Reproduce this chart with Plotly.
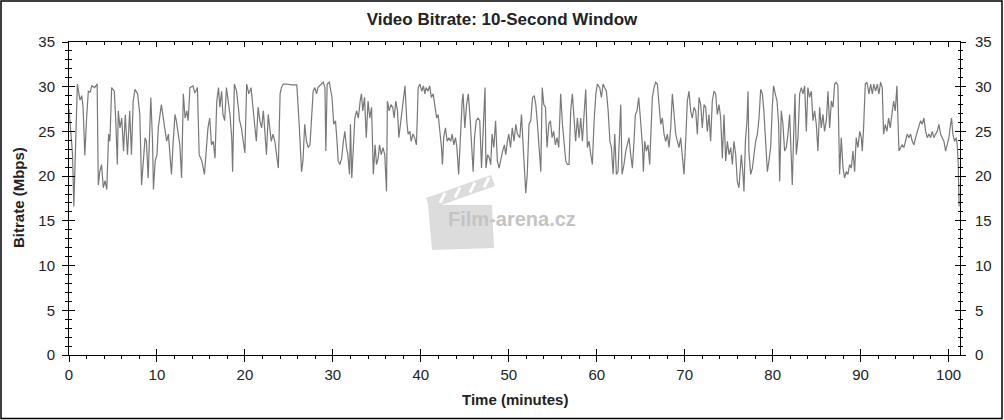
import plotly.graph_objects as go

# ---- data (time in minutes, bitrate in Mbps) ----
time_min = [
    0.0, 0.2, 0.4, 0.55, 0.75, 0.95, 1.25, 1.45, 1.6, 1.8, 2.0, 2.2, 2.4, 2.6, 2.9, 3.2, 3.33, 3.5, 3.7, 3.9,
    4.1, 4.3, 4.5, 4.65, 4.85, 5.15, 5.3, 5.5, 5.6, 5.8, 6.0, 6.2, 6.4, 6.55, 6.65, 6.9, 7.1, 7.3, 7.5, 7.8,
    8.05, 8.25, 8.45, 8.65, 8.8, 9.0, 9.3, 9.5, 9.6, 9.8, 10.0, 10.15, 10.5, 10.7, 10.9, 11.1, 11.3, 11.5, 11.65, 11.85,
    12.05, 12.2, 12.4, 12.6, 12.8, 13.0, 13.2, 13.4, 13.55, 13.75, 14.1, 14.3, 14.5, 14.6, 14.8, 15.1, 15.4, 15.65, 15.8, 16.0,
    16.2, 16.4, 16.6, 16.8, 17.0, 17.15, 17.35, 17.5, 17.7, 17.9, 18.1, 18.3, 18.5, 18.6, 18.8, 19.05, 19.25, 19.4, 19.6, 19.8,
    20.0, 20.2, 20.45, 20.7, 20.95, 21.1, 21.3, 21.5, 21.7, 21.9, 22.1, 22.3, 22.45, 22.65, 22.85, 23.0, 23.2, 23.4, 23.6, 23.8,
    24.0, 24.15, 24.35, 24.7, 25.3, 25.9,
    26.17, 26.44, 26.6, 26.8, 27.0, 27.2, 27.4, 27.6, 27.76, 27.95, 28.14, 28.3, 28.7, 28.9, 29.1, 29.2, 29.35, 29.6, 29.7, 29.9,
    30.1, 30.3, 30.5, 30.6, 30.8, 31.0, 31.2, 31.36, 31.55, 31.7, 31.9, 32.0, 32.15, 32.3, 32.5, 32.7, 32.9, 33.1, 33.25, 33.4,
    33.6, 33.8, 34.0, 34.2, 34.4, 34.6, 34.8, 34.96, 35.15, 35.3, 35.5, 35.7, 35.9, 36.1, 36.2, 36.4, 36.6, 36.8, 36.97, 37.15,
    37.35, 37.5, 37.7, 37.9, 38.2, 38.4, 38.55, 38.75, 38.9, 39.1, 39.3, 39.5, 39.7, 39.9, 40.1, 40.3, 40.45, 40.6, 40.8, 41.0,
    41.2, 41.4, 41.6, 41.8, 41.97, 42.15, 42.35, 42.46, 42.6, 42.8, 43.0, 43.18, 43.4, 43.56, 43.75, 43.94, 44.1, 44.3, 44.5, 44.7,
    44.8, 45.0, 45.2, 45.4, 45.6, 45.75, 45.95, 46.1, 46.3, 46.5, 46.7, 46.9, 47.1, 47.3, 47.4, 47.6, 47.8, 47.95, 48.1, 48.3,
    48.5, 48.7, 48.9, 49.1, 49.3, 49.5, 49.65, 49.85, 50.0, 50.2, 50.4, 50.6, 50.8, 50.98,
    51.25, 51.44, 51.63, 51.82, 51.93, 52.1, 52.3, 52.5, 52.7, 52.9, 53.07, 53.26, 53.45, 53.64, 53.8, 53.98, 54.17, 54.35, 54.55, 54.73,
    54.92, 55.1, 55.3, 55.49, 55.68, 55.9, 56.1, 56.29, 56.48, 56.66, 56.85, 57.04, 57.23, 57.42, 57.6, 57.8, 57.99, 58.18, 58.37, 58.56,
    58.75, 58.94, 59.13, 59.32, 59.5, 59.7, 59.9, 60.07, 60.34, 60.53, 60.72, 60.9, 61.1, 61.3, 61.5, 61.67, 61.86, 62.05, 62.23, 62.42,
    62.61, 62.73, 62.88, 63.1, 63.3, 63.48, 63.67, 63.86, 64.05, 64.24, 64.39, 64.58, 64.77, 64.96, 65.19, 65.3, 65.45, 65.64, 65.83, 66.02,
    66.21, 66.32, 66.51, 66.7, 66.89, 67.08, 67.27, 67.46, 67.65, 67.84, 68.03, 68.22, 68.41, 68.6, 68.79, 68.98, 69.17, 69.35, 69.54, 69.73,
    69.92, 70.11, 70.3, 70.49, 70.68, 70.87, 71.06, 71.25, 71.44, 71.63, 71.82, 72.0, 72.2, 72.39, 72.57, 72.76, 72.95, 73.14, 73.33, 73.52,
    73.71, 73.9, 74.09, 74.28, 74.47, 74.66, 74.85, 75.04, 75.23, 75.42, 75.6, 75.8, 75.98, 76.17,
    76.44, 76.63, 76.74, 76.9, 77.08, 77.2, 77.3, 77.5, 77.7, 77.88, 78.07, 78.26, 78.45, 78.64, 78.83, 79.0, 79.2, 79.4, 79.58, 79.77,
    79.96, 80.1, 80.3, 80.5, 80.68, 80.8, 80.98, 81.17, 81.36, 81.55, 81.74, 81.93, 82.12, 82.23, 82.39, 82.54, 82.69, 82.88, 83.07, 83.26,
    83.45, 83.64, 83.83, 84.0, 84.2, 84.4, 84.58, 84.77, 84.96, 85.15, 85.34, 85.53, 85.72, 85.9, 86.1, 86.29, 86.48, 86.67, 86.86, 87.05,
    87.24, 87.42, 87.61, 87.8, 88.0, 88.18, 88.37, 88.56, 88.75, 88.94, 89.13, 89.32, 89.5, 89.7, 89.9, 90.08, 90.19, 90.34, 90.53, 90.72,
    90.95, 91.14, 91.33, 91.5, 91.7, 91.89, 92.08, 92.27, 92.46, 92.61, 92.8, 92.99, 93.18, 93.37, 93.56, 93.75, 93.94, 94.13, 94.24, 94.36,
    94.55, 94.73, 94.92, 95.11, 95.3, 95.49, 95.68, 95.87, 96.06, 96.25, 96.44, 96.63, 96.82, 97.0, 97.2, 97.39, 97.58, 97.77, 97.96, 98.14,
    98.33, 98.52, 98.71, 98.9, 99.09, 99.28, 99.47, 99.66, 99.85, 100.04, 100.23, 100.34, 100.49, 100.68, 100.87, 100.98, 101.1, 101.2,
]
bitrate_mbps = [
    27.5, 25.0, 22.5, 16.6, 24.0, 30.3, 28.5, 29.0, 27.7, 22.3, 26.5, 29.5, 29.4, 30.1, 29.9, 30.3, 19.0, 20.5, 21.3, 18.7,
    19.5, 18.5, 24.7, 23.9, 29.9, 29.5, 26.5, 21.3, 27.3, 25.4, 26.5, 22.8, 26.9, 24.0, 22.4, 27.3, 22.4, 28.4, 29.7, 29.2,
    26.9, 19.0, 22.0, 24.3, 23.9, 19.8, 28.8, 23.9, 18.5, 21.7, 22.4, 25.4, 28.0, 26.5, 25.0, 23.9, 24.7, 21.7, 20.2, 23.9,
    26.9, 26.2, 25.0, 23.5, 19.8, 29.2, 26.5, 27.3, 26.2, 29.9, 30.1, 29.3, 29.7, 29.9, 22.4, 21.7, 20.2, 23.5, 25.4, 26.5,
    23.5, 23.9, 22.0, 28.4, 29.9, 27.7, 29.5, 26.9, 26.2, 29.9, 28.4, 26.9, 24.3, 20.5, 30.3, 29.5, 27.7, 26.2, 25.4, 23.9,
    22.6, 30.3, 29.2, 29.9, 26.9, 25.8, 23.9, 27.7, 26.2, 25.4, 27.3, 23.9, 22.4, 26.9, 25.4, 23.9, 24.7, 23.9, 22.4, 20.9,
    29.2, 29.9, 30.3, 30.3, 30.2, 30.2,
    25.8, 20.5, 21.7, 25.8, 23.9, 23.2, 23.5, 26.9, 29.5, 29.9, 29.2, 29.9, 30.3, 30.5, 29.9, 22.8, 30.3, 30.5, 29.9, 28.8,
    25.8, 26.2, 23.5, 21.7, 21.3, 22.0, 23.9, 25.0, 23.2, 22.4, 20.2, 25.8, 19.8, 23.5, 26.5, 27.3, 26.5, 28.4, 29.2, 27.3,
    28.8, 24.3, 28.4, 26.5, 27.7, 20.2, 23.5, 21.3, 22.0, 23.5, 22.4, 23.2, 22.4, 18.3, 28.4, 27.3, 28.0, 27.7, 26.5, 28.4,
    27.3, 24.3, 25.8, 27.3, 30.1, 26.2, 24.7, 25.0, 23.9, 24.7, 24.3, 23.5, 29.9, 30.3, 29.5, 30.1, 29.2, 29.9, 29.5, 30.1,
    28.8, 29.2, 27.7, 26.5, 26.9, 25.4, 23.2, 21.3, 24.3, 25.4, 23.9, 24.3, 23.9, 24.7, 23.5, 24.3, 23.2, 20.2, 25.4, 28.4,
    29.2, 25.4, 28.0, 29.2, 26.5, 23.9, 20.5, 24.3, 26.2, 26.5, 26.2, 20.9, 24.7, 29.9, 20.9, 22.4, 22.0, 21.3, 24.7, 23.2,
    26.2, 21.7, 20.9, 22.0, 22.8, 23.5, 22.4, 23.9, 24.7, 23.2, 25.4, 23.9, 25.8, 24.7,
    24.3, 26.9, 23.5, 20.5, 18.1, 20.2, 25.8, 26.2, 28.8, 29.0, 28.0, 25.8, 23.2, 20.5, 29.9, 28.0, 27.7, 23.2, 25.8, 26.2,
    24.3, 25.0, 23.5, 24.3, 23.2, 29.2, 25.8, 23.9, 21.7, 21.3, 21.3, 27.3, 29.2, 26.5, 23.9, 26.5, 24.3, 26.5, 23.9, 26.9,
    29.7, 23.2, 23.9, 22.4, 21.3, 26.2, 29.2, 30.3, 29.9, 28.8, 30.3, 29.9, 29.5, 27.3, 23.9, 23.2, 20.2, 24.7, 20.2, 20.5,
    24.7, 28.0, 20.2, 21.3, 22.8, 23.5, 24.3, 22.4, 20.9, 23.9, 26.9, 27.3, 28.8, 26.5, 23.5, 20.5, 23.9, 22.8, 23.5, 21.3,
    26.9, 28.8, 29.9, 30.5, 30.3, 27.7, 25.8, 26.5, 24.7, 23.9, 24.7, 23.2, 25.4, 29.2, 27.3, 24.7, 23.9, 23.2, 24.3, 22.0,
    20.2, 23.9, 28.4, 29.5, 27.3, 26.5, 27.7, 27.3, 24.7, 28.8, 28.0, 25.4, 28.0, 27.7, 25.0, 26.9, 23.9, 28.4, 29.5, 29.2,
    26.9, 28.0, 26.5, 22.0, 26.9, 21.7, 23.9, 22.4, 23.2, 21.3, 23.9, 22.4, 19.4, 18.7,
    22.4, 20.2, 18.3, 23.9, 26.2, 29.5, 22.8, 20.2, 20.9, 22.4, 23.9, 24.7, 26.5, 29.7, 29.2, 27.3, 23.5, 20.5, 21.7, 23.2,
    27.7, 30.1, 29.2, 28.4, 25.8, 19.4, 27.3, 25.8, 22.8, 23.2, 24.7, 26.9, 22.0, 19.0, 24.7, 29.2, 22.4, 24.3, 29.2, 29.9,
    29.2, 30.1, 25.0, 29.9, 28.8, 29.5, 26.2, 27.3, 25.8, 22.8, 27.7, 25.4, 26.9, 25.0, 26.2, 29.5, 25.4, 28.4, 27.7, 30.3,
    30.5, 30.1, 20.2, 24.3, 20.9, 19.8, 20.5, 20.2, 21.3, 20.9, 22.8, 20.5, 24.3, 23.2, 25.0, 24.3, 22.8, 25.4, 30.3, 30.5,
    29.2, 30.3, 29.2, 30.3, 29.5, 30.3, 29.2, 30.5, 29.9, 24.7, 25.8, 25.0, 26.5, 25.4, 26.9, 28.4, 27.3, 30.1, 26.5, 22.8,
    23.2, 23.5, 23.2, 23.9, 24.7, 24.3, 24.7, 23.9, 23.5, 24.3, 25.0, 25.4, 26.2, 25.8, 26.5, 25.0, 24.3, 24.7, 24.3, 25.0,
    24.3, 24.7, 25.0, 25.8, 24.7, 24.3, 23.9, 22.8, 23.5, 24.3, 25.8, 26.5, 24.7, 23.9, 24.3, 23.5, 21.3, 16.6,
]

x_ticks = [0, 10, 20, 30, 40, 50, 60, 70, 80, 90, 100]
y_ticks = [0, 5, 10, 15, 20, 25, 30, 35]

TITLE = "Video Bitrate: 10-Second Window"
X_TITLE = "Time (minutes)"
Y_TITLE = "Bitrate (Mbps)"
WATERMARK = "Film-arena.cz"

# ---- layout geometry (pixels) ----
W, H = 1004, 420
ML, MR, MT, MB = 69, 44, 42, 65
PW, PH = W - ML - MR, H - MT - MB
X_RANGE = [0, 101.3]
Y_RANGE = [0, 35]

def px(x):
    return (x - ML) / PW

def py(y):
    return (H - MB - y) / PH

FONT = "Arial, Liberation Sans, sans-serif"
LINE_COLOR = "#787878"

fig = go.Figure()
fig.add_trace(go.Scatter(x=time_min, y=bitrate_mbps, mode="lines",
                         line=dict(color=LINE_COLOR, width=1.2),
                         hoverinfo="skip", showlegend=False))
# empty traces so that the overlay axes (cross ticks / mirrored axes) are drawn
for xa, ya in [("x2", "y"), ("x3", "y"), ("x", "y2"), ("x", "y3"), ("x", "y4")]:
    fig.add_trace(go.Scatter(x=[None], y=[None], xaxis=xa, yaxis=ya,
                             showlegend=False, hoverinfo="skip"))

tickfont = dict(family=FONT, size=15, color="#222222")
common = dict(showgrid=False, zeroline=False, tickcolor="black", linecolor="black",
              linewidth=1, tickwidth=1, fixedrange=True, automargin=False)

fig.update_layout(
    width=W, height=H,
    margin=dict(l=ML, r=MR, t=MT, b=MB, pad=0, autoexpand=False),
    paper_bgcolor="white", plot_bgcolor="white",
    showlegend=False,
    title=dict(text="<b>" + TITLE + "</b>", x=0.5, xref="container", xanchor="center",
               y=1 - 19 / H, yref="container", yanchor="middle",
               font=dict(family=FONT, size=17, color="#222222")),
    xaxis=dict(range=X_RANGE, tickvals=x_ticks, ticks="outside", ticklen=6,
               showline=True, tickfont=tickfont,
               minor=dict(ticks="outside", dtick=2, tick0=0, ticklen=3, tickcolor="black"),
               **common),
    xaxis2=dict(range=X_RANGE, overlaying="x", anchor="y", side="bottom",
                tickvals=x_ticks, ticks="inside", ticklen=6, showticklabels=False,
                showline=False, **common),
    xaxis3=dict(range=X_RANGE, overlaying="x", anchor="y", side="top",
                tickvals=x_ticks, ticks="inside", ticklen=5, showticklabels=False,
                showline=True,
                minor=dict(ticks="inside", dtick=2, tick0=0, ticklen=3, tickcolor="black"),
                **common),
    yaxis=dict(range=Y_RANGE, tickvals=y_ticks, ticks="outside", ticklen=6,
               showline=True, tickfont=tickfont, ticklabelstandoff=4,
               minor=dict(ticks="outside", dtick=1, tick0=0, ticklen=3, tickcolor="black"),
               **common),
    yaxis2=dict(range=Y_RANGE, overlaying="y", anchor="x", side="left",
                tickvals=y_ticks, ticks="inside", ticklen=6, showticklabels=False,
                showline=False,
                minor=dict(ticks="inside", dtick=1, tick0=0, ticklen=3, tickcolor="black"),
                **common),
    yaxis3=dict(range=Y_RANGE, overlaying="y", anchor="x", side="right",
                tickvals=y_ticks, ticks="outside", ticklen=5, showticklabels=True,
                tickfont=tickfont, ticklabelstandoff=6, showline=True,
                minor=dict(ticks="outside", dtick=1, tick0=0, ticklen=2, tickcolor="black"),
                **common),
    yaxis4=dict(range=Y_RANGE, overlaying="y", anchor="x", side="right",
                tickvals=y_ticks, ticks="inside", ticklen=5, showticklabels=False,
                showline=False,
                minor=dict(ticks="inside", dtick=1, tick0=0, ticklen=2, tickcolor="black"),
                **common),
)

# axis titles
fig.add_annotation(text="<b>" + X_TITLE + "</b>", xref="paper", yref="paper",
                   x=px(515), y=py(399), xanchor="center", yanchor="middle",
                   showarrow=False, font=dict(family=FONT, size=15, color="#222222"))
fig.add_annotation(text="<b>" + Y_TITLE + "</b>", xref="paper", yref="paper",
                   x=px(18), y=py(198), xanchor="center", yanchor="middle", textangle=-90,
                   showarrow=False, font=dict(family=FONT, size=15, color="#222222"))

# watermark: clapboard + text
WM = "#dcdcdc"
fig.add_shape(type="path", xref="paper", yref="paper", layer="below",
              path="M {} {} L {} {} L {} {} L {} {} Z".format(px(428), py(205), px(492), py(205),
                                                              px(494), py(248), px(432), py(250)),
              fillcolor=WM, line=dict(width=0))
fig.add_shape(type="path", xref="paper", yref="paper", layer="below",
              path="M {} {} L {} {} L {} {} L {} {} Z".format(px(426), py(198), px(491), py(175),
                                                              px(495), py(186), px(430), py(209)),
              fillcolor=WM, line=dict(width=0))
for sx in [440, 455, 470, 484]:
    fig.add_shape(type="line", xref="paper", yref="paper", layer="below",
                  x0=px(sx), y0=py(177 + (491 - sx) * 0.35 + 8),
                  x1=px(sx + 5), y1=py(177 + (491 - sx) * 0.35 - 2),
                  line=dict(color="white", width=3))
fig.add_annotation(text="<b>" + WATERMARK + "</b>", xref="paper", yref="paper",
                   x=px(512), y=py(219), xanchor="center", yanchor="middle",
                   showarrow=False, font=dict(family=FONT, size=20, color="#c4c4c4"))

# outer frame of the picture
fig.add_shape(type="rect", xref="paper", yref="paper",
              x0=px(1), y0=py(1), x1=px(1002), y1=py(418.5),
              line=dict(color="black", width=1.5), fillcolor="rgba(0,0,0,0)")

fig.write_html("out.html", config={"displayModeBar": False},
               post_script="document.body.style.margin='0';document.body.style.overflow='hidden';")
